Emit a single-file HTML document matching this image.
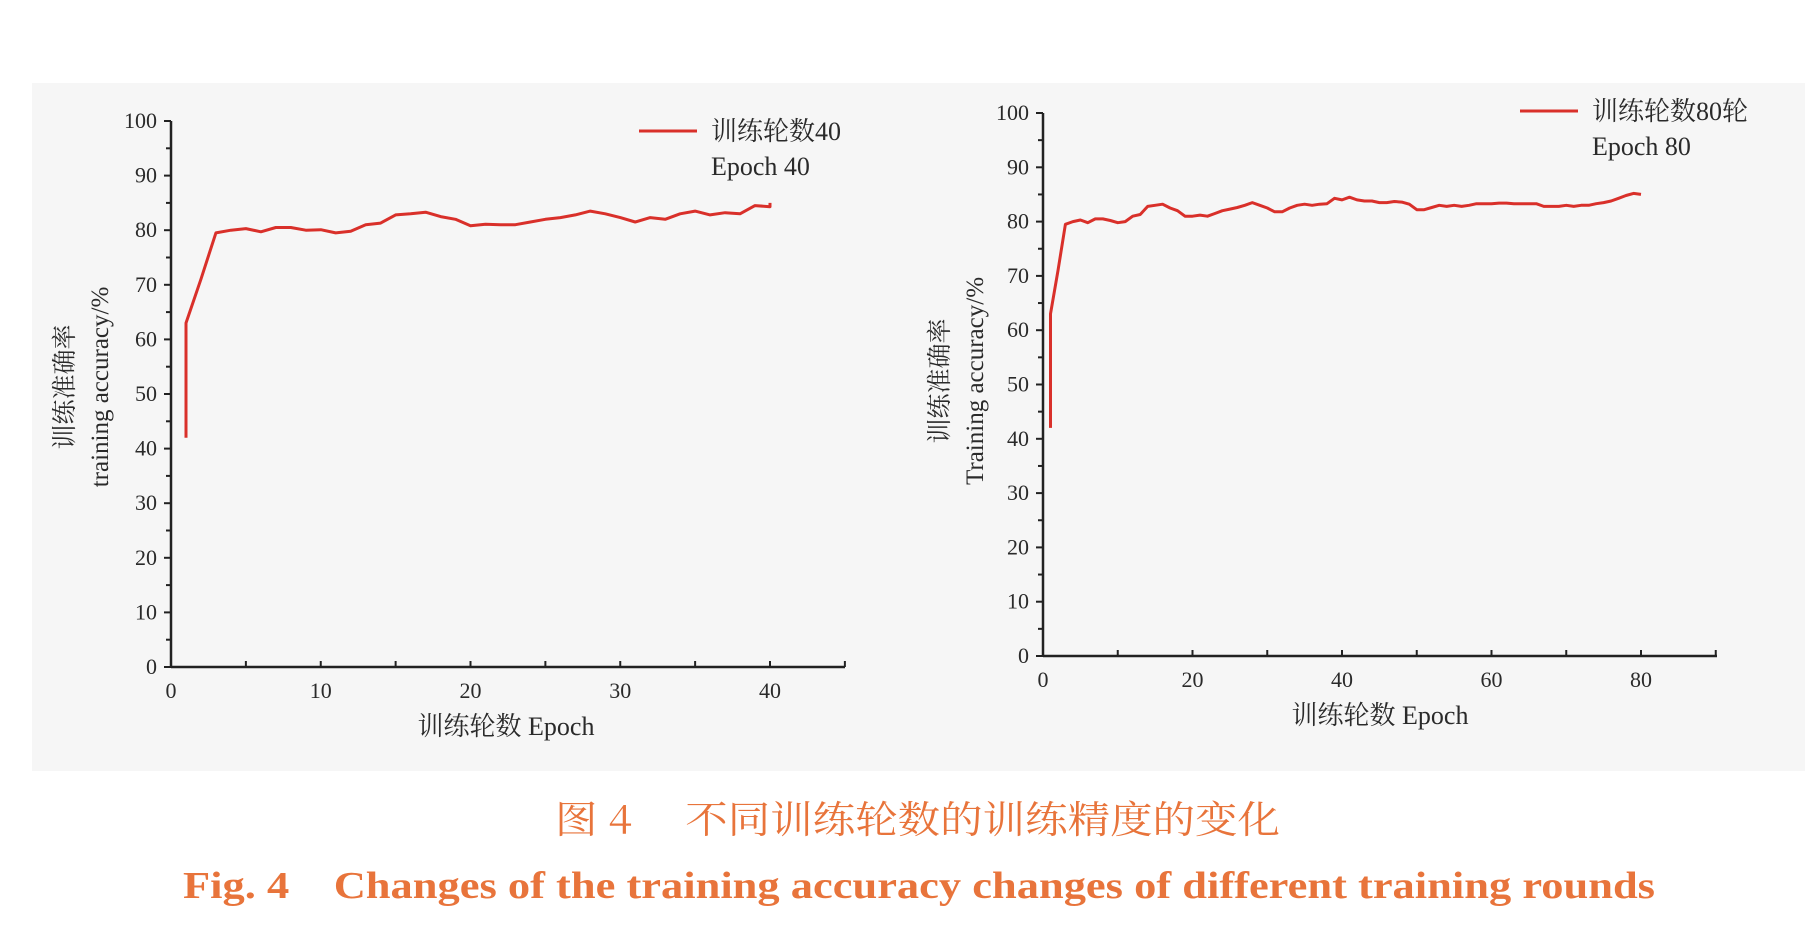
<!DOCTYPE html>
<html><head><meta charset="utf-8"><style>
html,body{margin:0;padding:0;background:#fff;width:1812px;height:949px;overflow:hidden}
svg{display:block}
text{font-family:"Liberation Serif","Noto Serif CJK SC",serif;fill:#2a2a2a}
</style></head><body>
<svg id="fig" width="1812" height="949" viewBox="0 0 1812 949">
<rect x="32" y="83" width="1773" height="688" fill="#f6f6f6"/>
<g id="c1"></g>
<g id="c2"></g>
<text x="555" y="833" font-size="38" textLength="725" lengthAdjust="spacingAndGlyphs" style="fill:#e8743b;font-family:'Noto Serif CJK SC',serif">图 4　 不同训练轮数的训练精度的变化</text>
<text x="183" y="898" font-size="38" font-weight="bold" textLength="1472" lengthAdjust="spacingAndGlyphs" style="fill:#e8743b">Fig. 4　Changes of the training accuracy changes of different training rounds</text>
</svg>
<script>
const epochs40 = [1,1,2,3,4,5,6,7,8,9,10,11,12,13,14,15,16,17,18,19,20,21,22,23,24,25,26,27,28,29,30,31,32,33,34,35,36,37,38,39,40,40];
const acc40 = [42,63,71,79.5,80,80.3,79.7,80.5,80.5,80,80.1,79.5,79.8,81,81.3,82.8,83,83.3,82.5,82,80.8,81.1,81,81,81.5,82,82.3,82.8,83.5,83,82.3,81.5,82.3,82,83,83.5,82.8,83.2,83,84.5,84.3,85];
const epochs80 = [1,1,2,3,4,5,6,7,8,9,10,11,12,13,14,15,16,17,18,19,20,21,22,23,24,25,26,27,28,29,30,31,32,33,34,35,36,37,38,39,40,41,42,43,44,45,46,47,48,49,50,51,52,53,54,55,56,57,58,59,60,61,62,63,64,65,66,67,68,69,70,71,72,73,74,75,76,77,78,79,80];
const acc80 = [42,63,71,79.5,80,80.3,79.8,80.5,80.5,80.2,79.8,80,81,81.3,82.8,83,83.2,82.5,82,81,81,81.2,81,81.5,82,82.3,82.6,83,83.5,83,82.5,81.8,81.8,82.5,83,83.2,83,83.2,83.3,84.3,84,84.5,84,83.8,83.8,83.5,83.5,83.7,83.6,83.2,82.2,82.2,82.6,83,82.8,83,82.8,83,83.3,83.3,83.3,83.4,83.4,83.3,83.3,83.3,83.3,82.8,82.8,82.8,83,82.8,83,83,83.3,83.5,83.8,84.3,84.8,85.2,85];
const yTicks = [0,10,20,30,40,50,60,70,80,90,100];
const xTicks40 = [0,10,20,30,40];
const xTicks80 = [0,20,40,60,80];
const NS="http://www.w3.org/2000/svg";
function mk(parent,tag,attrs,txt){const e=document.createElementNS(NS,tag);for(const k in attrs)e.setAttribute(k,attrs[k]);if(txt!==undefined)e.textContent=txt;parent.appendChild(e);return e;}
function draw(gid,cfg){
  const g=document.getElementById(gid);
  const sx=v=>cfg.x0+(v/cfg.xmax)*(cfg.x1-cfg.x0);
  const sy=v=>cfg.y0-(v/100)*(cfg.y0-cfg.y100);
  let e;
  e=mk(g,'line',{x1:cfg.x0,y1:cfg.y0,x2:cfg.x0,y2:cfg.y100,stroke:'#222','stroke-width':2.5});
  
  
  e=mk(g,'line',{x1:cfg.x0,y1:cfg.y0,x2:cfg.xend,y2:cfg.y0,stroke:'#222','stroke-width':2.5});
  
  
  for(let v=0;v<=100;v+=5){
    const len=v%10===0?7:5;
    e=mk(g,'line',{x1:cfg.x0-len,y1:sy(v),x2:cfg.x0,y2:sy(v),stroke:'#222','stroke-width':2});
    
    
  }
  yTicks.forEach(v=>{
    e=mk(g,'text',{x:cfg.x0-14,y:sy(v)+7,'text-anchor':'end','font-size':22},String(v));
    
    
  });
  for(let v=cfg.minor;v<=cfg.xmaxAxis;v+=cfg.minor){
    e=mk(g,'line',{x1:sx(v),y1:cfg.y0,x2:sx(v),y2:cfg.y0-6,stroke:'#222','stroke-width':2});
    
    
  }
  cfg.xt.forEach(v=>{
    e=mk(g,'text',{x:sx(v),y:cfg.y0+31,'text-anchor':'middle','font-size':22},String(v));
    
    
  });
  const pts=cfg.ex.map((x,i)=>sx(x).toFixed(1)+','+sy(cfg.ay[i]).toFixed(1)).join(' ');
  e=mk(g,'polyline',{points:pts,fill:'none',stroke:'#d9302a','stroke-width':3,'stroke-linejoin':'round'});
  
  
  e=mk(g,'text',{x:cfg.xtx,y:cfg.xty,'text-anchor':'middle','font-size':26},cfg.xtitle);
  
  
  e=mk(g,'text',{x:0,y:0,'text-anchor':'middle','font-size':25,transform:`translate(${cfg.yt1x},${cfg.ytY}) rotate(-90)`},'训练准确率');
  
  
  e=mk(g,'text',{x:0,y:0,'text-anchor':'middle','font-size':25,transform:`translate(${cfg.yt2x},${cfg.ytY}) rotate(-90)`},cfg.ytitle);
  
  
  e=mk(g,'line',{x1:cfg.lx,y1:cfg.ly,x2:cfg.lx+58,y2:cfg.ly,stroke:'#d9302a','stroke-width':3});
  
  
  e=mk(g,'text',{x:cfg.lx+72,y:cfg.ly+9,'font-size':26},cfg.leg1);
  
  
  e=mk(g,'text',{x:cfg.lx+72,y:cfg.ly+44,'font-size':26},cfg.leg2);
  
  
}
draw('c1',{x0:171,x1:770,xmax:40,xend:845,xmaxAxis:45,minor:5,y0:667,y100:121,xt:xTicks40,ex:epochs40,ay:acc40,
  xtitle:'训练轮数  Epoch',xtx:506,xty:735,yt1x:73,yt2x:108,ytY:387,ytitle:'training accuracy/%',lx:639,ly:131,leg1:'训练轮数40',leg2:'Epoch 40'});
draw('c2',{x0:1043,x1:1641,xmax:80,xend:1717,xmaxAxis:90,minor:10,y0:656,y100:113,xt:xTicks80,ex:epochs80,ay:acc80,
  xtitle:'训练轮数 Epoch',xtx:1380,xty:724,yt1x:948,yt2x:983,ytY:381,ytitle:'Training accuracy/%',lx:1520,ly:111,leg1:'训练轮数80轮',leg2:'Epoch 80'});
</script>
</body></html>
